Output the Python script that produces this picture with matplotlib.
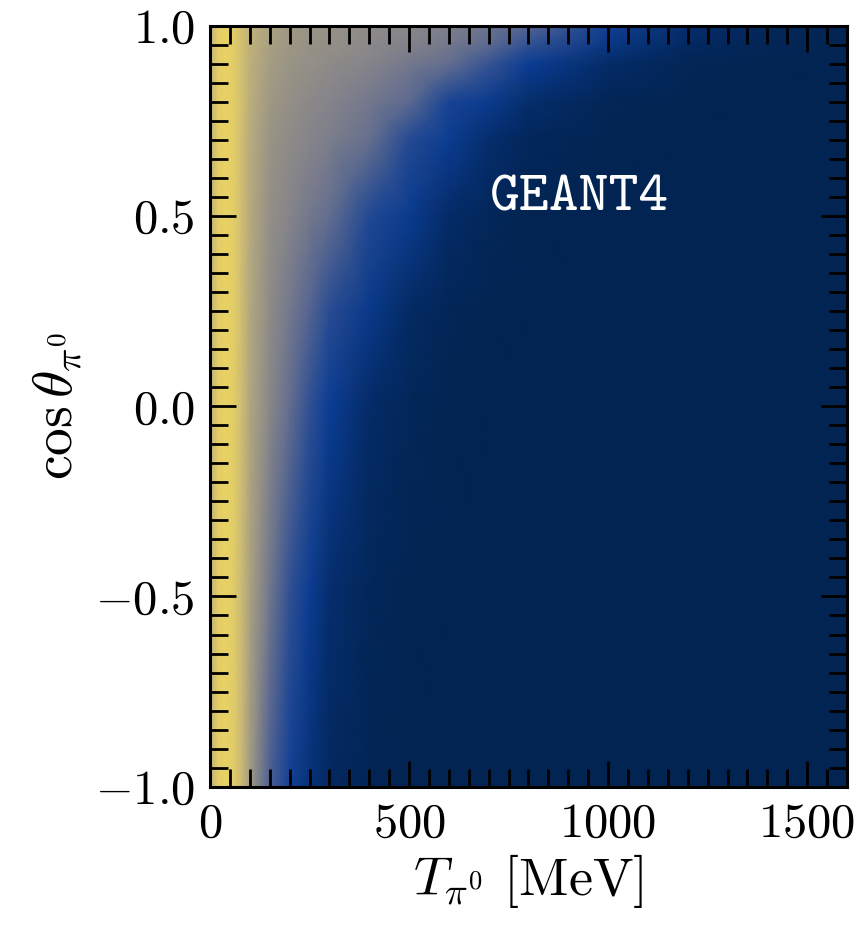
import numpy as np
import matplotlib
matplotlib.use("Agg")
import matplotlib.pyplot as plt
from matplotlib.colors import LinearSegmentedColormap
from matplotlib.ticker import MultipleLocator

# ---- data (relative density, 0 = empty, 1 = max) ----
T_nodes = [0, 20, 40, 60, 80, 100, 150, 200, 250, 300, 400, 500, 600, 700, 800, 1000, 1200, 1400, 1600]
cos_nodes = [-1.0, -0.5, 0.0, 0.25, 0.5, 0.7, 0.8, 0.9, 0.95, 1.0]
row_m100 = [0.82, 0.97, 1.00, 0.96, 0.86, 0.72, 0.46, 0.30, 0.18, 0.08, 0.02, 0.00, 0.00, 0.00, 0.00, 0.00, 0.00, 0.00, 0.00]
row_m050 = [0.82, 0.97, 1.00, 0.96, 0.87, 0.75, 0.56, 0.38, 0.27, 0.14, 0.04, 0.01, 0.00, 0.00, 0.00, 0.00, 0.00, 0.00, 0.00]
row_p000 = [0.82, 0.97, 1.00, 0.97, 0.88, 0.77, 0.63, 0.52, 0.38, 0.28, 0.12, 0.04, 0.01, 0.00, 0.00, 0.00, 0.00, 0.00, 0.00]
row_p025 = [0.82, 0.97, 1.00, 0.97, 0.88, 0.78, 0.65, 0.57, 0.48, 0.36, 0.24, 0.10, 0.03, 0.01, 0.00, 0.00, 0.00, 0.00, 0.00]
row_p050 = [0.82, 0.97, 1.00, 0.97, 0.89, 0.79, 0.67, 0.62, 0.57, 0.52, 0.34, 0.26, 0.12, 0.04, 0.01, 0.00, 0.00, 0.00, 0.00]
row_p070 = [0.82, 0.97, 1.00, 0.97, 0.89, 0.80, 0.69, 0.65, 0.62, 0.59, 0.53, 0.35, 0.27, 0.14, 0.05, 0.01, 0.00, 0.00, 0.00]
row_p080 = [0.82, 0.97, 1.00, 0.97, 0.90, 0.81, 0.71, 0.67, 0.64, 0.62, 0.57, 0.50, 0.32, 0.26, 0.14, 0.03, 0.01, 0.00, 0.00]
row_p090 = [0.83, 0.97, 1.00, 0.97, 0.90, 0.82, 0.73, 0.69, 0.67, 0.65, 0.62, 0.57, 0.52, 0.40, 0.28, 0.12, 0.03, 0.01, 0.00]
row_p095 = [0.83, 0.98, 1.00, 0.97, 0.90, 0.83, 0.74, 0.70, 0.68, 0.67, 0.64, 0.61, 0.57, 0.50, 0.38, 0.22, 0.08, 0.03, 0.01]
row_p100 = [0.83, 0.98, 1.00, 0.97, 0.90, 0.83, 0.75, 0.71, 0.69, 0.68, 0.65, 0.63, 0.60, 0.55, 0.48, 0.30, 0.14, 0.05, 0.02]

xticks = [0, 500, 1000, 1500]
xticklabels = ["$0$", "$500$", "$1000$", "$1500$"]
yticks = [-1.0, -0.5, 0.0, 0.5, 1.0]
yticklabels = ["$-1.0$", "$-0.5$", "$0.0$", "$0.5$", "$1.0$"]
label_text = "GEANT4"

# ---- style ----
plt.rcParams["mathtext.fontset"] = "cm"
plt.rcParams["font.family"] = ["cmr10", "DejaVu Serif"]
plt.rcParams["axes.unicode_minus"] = False

cmap = LinearSegmentedColormap.from_list(
    "geant",
    [(0.00, "#022452"),
     (0.12, "#052c68"),
     (0.28, "#0b3d94"),
     (0.45, "#4a5d92"),
     (0.62, "#85848a"),
     (0.80, "#b9ac7e"),
     (1.00, "#e9d264")])

Z = np.array([row_m100, row_m050, row_p000, row_p025, row_p050,
              row_p070, row_p080, row_p090, row_p095, row_p100])

fig = plt.figure(figsize=(8.66, 9.25), dpi=100)
ax = fig.add_axes([0.2425, 0.1495, 0.9780 - 0.2425, 0.9722 - 0.1495])

ax.pcolormesh(T_nodes, cos_nodes, Z, cmap=cmap, vmin=0, vmax=1,
              shading="gouraud", rasterized=True)

ax.set_xlim(0, 1600)
ax.set_ylim(-1.0, 1.0)

ax.set_xticks(xticks)
ax.set_xticklabels(xticklabels)
ax.set_yticks(yticks)
ax.set_yticklabels(yticklabels)
ax.xaxis.set_minor_locator(MultipleLocator(50))
ax.yaxis.set_minor_locator(MultipleLocator(0.05))

ax.tick_params(which="both", direction="in", top=True, right=True,
               color="black", labelsize=35)
ax.tick_params(which="major", length=19, width=2.0, pad=11)
ax.tick_params(which="minor", length=13, width=2.0)
for s in ax.spines.values():
    s.set_linewidth(2.2)

ax.set_xlabel(r"$T_{\pi^0}\ [\mathrm{MeV}]$", fontsize=39, labelpad=4)
ax.set_ylabel(r"$\cos\theta_{\pi^0}$", fontsize=40, labelpad=8)

ax.text(927, 0.542, label_text, color="white", fontsize=41,
        family="cmtt10", ha="center", va="center")

fig.savefig("out.png", dpi=100)
